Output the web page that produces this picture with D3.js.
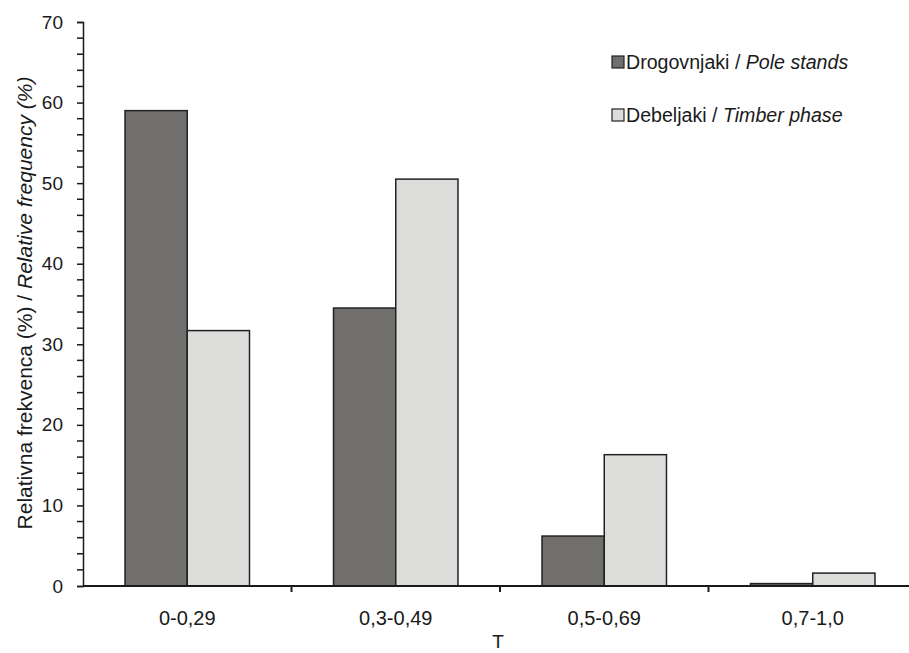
<!DOCTYPE html>
<html><head><meta charset="utf-8">
<script src="https://cdn.jsdelivr.net/npm/d3@7"></script>
<style>body{margin:0;background:#fff}svg{display:block}text{font-family:"Liberation Sans",Arial,sans-serif;fill:#1a1a1a}</style>
</head><body><div id="chart"></div>
<script>
const categories = ["0-0,29", "0,3-0,49", "0,5-0,69", "0,7-1,0"];
const seriesNames = ["Drogovnjaki", "Debeljaki"];
const seriesItalic = ["Pole stands", "Timber phase"];
const poleStands = [59.0, 34.5, 6.2, 0.3];
const timberPhase = [31.7, 50.5, 16.3, 1.6];
const yTicks = [0, 10, 20, 30, 40, 50, 60, 70];
const colors = ["#706f6d", "#dcdcdb"];

const W = 909, H = 653;
const svg = d3.select("#chart").append("svg").attr("width", W).attr("height", H);
const x0 = d3.scaleBand().domain(categories).range([83, 917]).paddingInner(0).paddingOuter(0);
const x1 = d3.scaleBand().domain([0, 1]).range([0, x0.bandwidth()]).paddingOuter(0.675).paddingInner(0);
const y = d3.scaleLinear().domain([0, 70]).range([586, 22]);
const series = [poleStands, timberPhase];

// bars
categories.forEach((c, i) => {
  series.forEach((s, j) => {
    svg.append("rect")
      .attr("x", x0(c) + x1(j))
      .attr("y", y(s[i]))
      .attr("width", x1.bandwidth())
      .attr("height", y(0) - y(s[i]))
      .attr("fill", colors[j])
      .attr("stroke", "#222")
      .attr("stroke-width", 1.5);
  });
});

// y axis
const yAxis = d3.axisLeft(y).tickValues(yTicks).tickSize(6).tickPadding(14).tickFormat(d3.format("d"));
const gy = svg.append("g").attr("transform", "translate(83,0)").call(yAxis);
gy.selectAll("text").style("font-size", "19px").attr("fill", "#1a1a1a");
gy.selectAll("line").attr("stroke", "#1a1a1a").attr("stroke-width", 1.5);
gy.select(".domain").attr("stroke", "#1a1a1a").attr("stroke-width", 1.5);
const minor = d3.range(0, 71, 2).filter(v => v % 10 !== 0);
gy.selectAll(".minor").data(minor).enter().append("line")
  .attr("x1", -6).attr("x2", 0).attr("y1", d => y(d)).attr("y2", d => y(d))
  .attr("stroke", "#1a1a1a").attr("stroke-width", 1.5);

// x axis
const gx = svg.append("g").attr("transform", "translate(0,586)");
gx.append("line").attr("x1", 83).attr("x2", 917).attr("y1", 0).attr("y2", 0).attr("stroke", "#1a1a1a").attr("stroke-width", 2);
gx.selectAll(".xt").data(categories.slice(1)).enter().append("line")
  .attr("x1", d => x0(d)).attr("x2", d => x0(d)).attr("y1", 0).attr("y2", 6)
  .attr("stroke", "#1a1a1a").attr("stroke-width", 2);
gx.selectAll(".xl").data(categories).enter().append("text")
  .attr("x", d => x0(d) + x0.bandwidth() / 2).attr("y", 39)
  .attr("text-anchor", "middle").style("font-size", "20px").text(d => d);

svg.append("text").attr("x", 498).attr("y", 648).attr("text-anchor", "middle").style("font-size", "19px").text("T");

// y label
const yl = svg.append("text").attr("transform", "translate(32,303) rotate(-90)").attr("text-anchor", "middle").style("font-size", "21px");
yl.append("tspan").text("Relativna frekvenca (%) / ");
yl.append("tspan").style("font-style", "italic").text("Relative frequency (%)");

// legend
seriesNames.forEach((n, j) => {
  const ly = 56 + j * 53;
  svg.append("rect").attr("x", 612).attr("y", ly).attr("width", 12).attr("height", 12)
    .attr("fill", colors[j]).attr("stroke", "#222").attr("stroke-width", 1.2);
  const t = svg.append("text").attr("x", 626).attr("y", ly + 13).style("font-size", "19.6px");
  t.append("tspan").text(n + " / ");
  t.append("tspan").style("font-style", "italic").text(seriesItalic[j]);
});
</script></body></html>
